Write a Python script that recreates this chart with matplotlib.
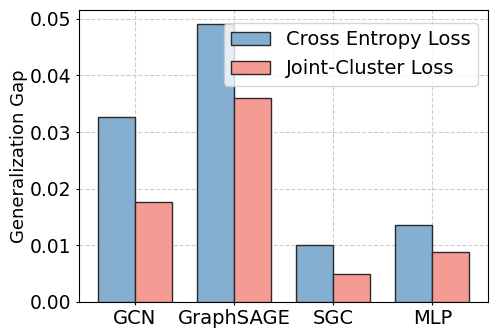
import numpy as np
import matplotlib
matplotlib.use("Agg")
import matplotlib.pyplot as plt

models = ["GCN", "GraphSAGE", "SGC", "MLP"]
ce_loss = [0.0327, 0.0491, 0.0101, 0.0136]
jc_loss = [0.0177, 0.0360, 0.0049, 0.0088]

x = np.arange(len(models))
width = 0.375

fig, ax = plt.subplots(figsize=(4.98, 3.35), dpi=100)
ax.bar(x - width / 2, ce_loss, width, color="#85afd0", edgecolor="#2a2a2a",
       linewidth=1.0, label="Cross Entropy Loss", zorder=3)
ax.bar(x + width / 2, jc_loss, width, color="#f49c94", edgecolor="#2a2a2a",
       linewidth=1.0, label="Joint-Cluster Loss", zorder=3)

ax.set_xticks(x)
ax.set_xticklabels(models, fontsize=14)
ax.tick_params(axis="x", labelsize=14, length=2.5, pad=3)
ax.tick_params(axis="y", labelsize=13.5, length=2.5, pad=3)
ax.set_ylabel("Generalization Gap", fontsize=13, labelpad=1.5)
ax.grid(True, linestyle="--", color="#cccccc", linewidth=0.8, zorder=0)
ax.set_axisbelow(True)
ax.legend(loc="upper right", fontsize=14, handlelength=2.0,
          bbox_to_anchor=(1.0, 0.99))

fig.subplots_adjust(left=0.159, right=0.98, top=0.97, bottom=0.099)
fig.savefig("out.png", dpi=100)
